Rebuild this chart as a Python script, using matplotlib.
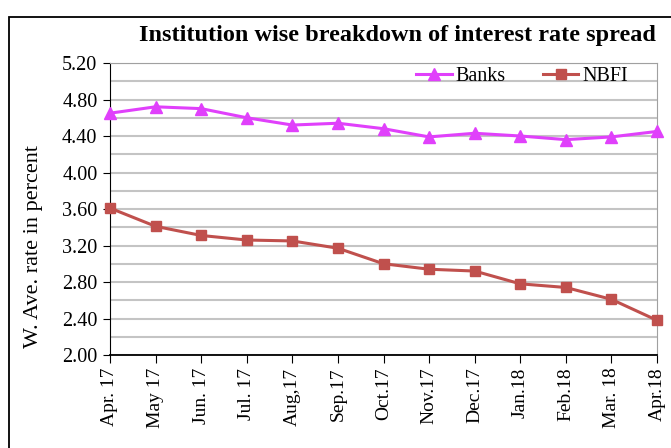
import matplotlib
matplotlib.use("Agg")
import matplotlib.pyplot as plt
from matplotlib.patches import Rectangle
import numpy as np

months = ["Apr. 17", "May 17", "Jun. 17", "Jul. 17", "Aug,17", "Sep.17", "Oct.17",
          "Nov.17", "Dec.17", "Jan.18", "Feb.18", "Mar. 18", "Apr.18"]
banks = [4.65, 4.72, 4.70, 4.60, 4.52, 4.54, 4.48, 4.39, 4.43, 4.40, 4.36, 4.39, 4.45]
nbfi = [3.61, 3.41, 3.31, 3.26, 3.25, 3.17, 3.00, 2.94, 2.92, 2.78, 2.74, 2.61, 2.38]
yticks = [2.00, 2.40, 2.80, 3.20, 3.60, 4.00, 4.40, 4.80, 5.20]

plt.rcParams['font.family'] = ['Liberation Serif', 'DejaVu Serif']

W, H = 671, 448
fig = plt.figure(figsize=(W / 100, H / 100), dpi=100)
ax = fig.add_axes([110 / W, 1 - 355 / H, (657 - 110) / W, (355 - 63) / H])

# outer frame
fig.patches.append(Rectangle((8.5 / W, -0.1), 1.2, 1 - 17.5 / H + 0.1, transform=fig.transFigure,
                             fill=False, edgecolor='black', linewidth=1.3, zorder=0))

x = np.arange(len(months))
ax.plot(x, banks, color='#e040fb', marker='^', markersize=8.5, linewidth=2.2, label='Banks', clip_on=False, zorder=4)
ax.plot(x, nbfi, color='#c0504d', marker='s', markersize=7.5, linewidth=2.2, label='NBFI', clip_on=False, zorder=4)

ax.set_xlim(0, len(months) - 1)
ax.set_ylim(2.0, 5.2)
ax.set_yticks(yticks)
ax.set_yticklabels([f"{v:.2f}" for v in yticks], fontsize=14.5)
ax.set_yticks(np.arange(2.0, 5.21, 0.2), minor=True)
ax.set_xticks(x)
ax.set_xticklabels(months, rotation=90, fontsize=14)
ax.grid(True, which='both', axis='y', color='#c4c4c4', linewidth=1.5, zorder=0)
ax.set_axisbelow(True)
ax.tick_params(axis='y', which='major', direction='out', length=5, color='black', pad=4)
ax.tick_params(axis='y', which='minor', direction='out', length=0)
ax.tick_params(axis='x', direction='out', length=6, color='black', pad=3)

ax.spines['left'].set_linestyle((0, (2, 1)))
ax.spines['left'].set_color('black')
ax.spines['bottom'].set_color('black')
ax.spines['bottom'].set_linewidth(1.3)
ax.spines['top'].set_color('#a0a0a0')
ax.spines['right'].set_color('#a0a0a0')

ax.set_ylabel("W. Ave. rate in percent", fontsize=16)
ax.yaxis.set_label_coords(-0.122, 0.372)

fig.text(397 / W, 1 - 35 / H, "Institution wise breakdown of interest rate spread",
         ha='center', va='center', fontsize=17.5, fontweight='bold')

leg = ax.legend(loc='upper right', ncol=2, frameon=False, fontsize=14.5,
                bbox_to_anchor=(0.947, 0.985), handlelength=1.75, handletextpad=0.2,
                columnspacing=1.85, borderaxespad=0, borderpad=0)

fig.savefig("out.png", dpi=100)
